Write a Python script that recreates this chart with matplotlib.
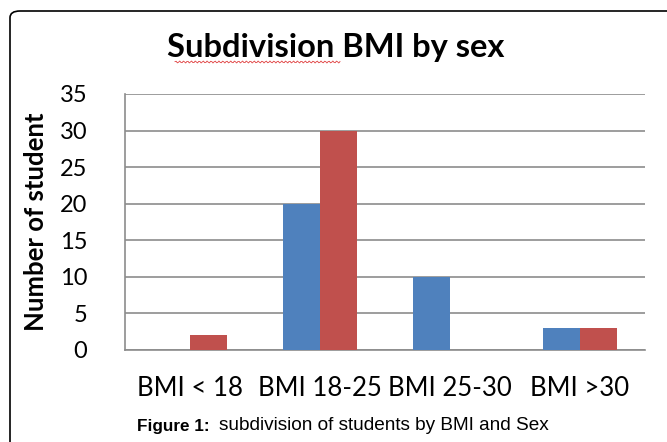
import numpy as np
import matplotlib
matplotlib.use("Agg")
import matplotlib.pyplot as plt
from matplotlib.patches import FancyBboxPatch

categories = ["BMI < 18", "BMI 18-25", "BMI 25-30", "BMI >30"]
male = [0, 20, 10, 3]
female = [2, 30, 0, 3]
yticks = [0, 5, 10, 15, 20, 25, 30, 35]

blue = "#4F81BD"
red = "#C0504D"

plt.rcParams['font.family'] = ['Lato', 'DejaVu Sans']

fig = plt.figure(figsize=(6.67, 4.42), dpi=100)
ax = fig.add_axes([125 / 667, 1 - 350 / 442, 520 / 667, 256 / 442])

x = np.arange(len(categories))
w = 0.285
ax.bar(x - w / 2, male, w, color=blue, zorder=3)
ax.bar(x + w / 2, female, w, color=red, zorder=3)

ax.set_xlim(-0.5, len(categories) - 0.5)
ax.set_ylim(0, 35)
ax.set_yticks(yticks)
ax.set_yticklabels([str(t) for t in yticks], fontsize=17)
ax.set_xticks(x)
ax.set_xticklabels(categories, fontsize=18.5)
ax.tick_params(axis='y', length=0, pad=27)
ax.tick_params(axis='x', length=0, pad=19)
ax.grid(axis='y', color='#8c8c8c', linewidth=1.2, zorder=0)
for s in ['top', 'right']:
    ax.spines[s].set_visible(False)
for s in ['left', 'bottom']:
    ax.spines[s].set_color('#8c8c8c')
    ax.spines[s].set_linewidth(1.2)

ax.set_ylabel("Number of student", fontsize=18.5, fontweight='bold')
ax.yaxis.set_label_coords(-77 / 520, 0.5)

fig.text(336 / 667, 1 - 57 / 442, "Subdivision BMI by sex", fontsize=23.5,
         fontweight='bold', ha='center', va='baseline')
# spell-check squiggle under "Subdivision"
sx = np.linspace(175, 340, 140)
sy = 62 + 1.0 * np.sin(sx * 1.6)
fig.add_artist(plt.Line2D(sx / 667, 1 - sy / 442, color='#e04040', linewidth=0.6))

fig.text(137 / 667, 1 - 426 / 442, "Figure 1:", fontsize=12.3, fontweight='bold',
         family=['Liberation Sans'], ha='left', va='center')
fig.text(219 / 667, 1 - 426 / 442, "subdivision of students by BMI and Sex",
         fontsize=13.7, family=['Liberation Sans'], ha='left', va='center')

frame = FancyBboxPatch((10 / 667, -0.2), 1.2, 1 - 11 / 442 + 0.2,
                       boxstyle="round,pad=0,rounding_size=0.015",
                       transform=fig.transFigure, fill=False,
                       edgecolor='black', linewidth=1.2, clip_on=False)
fig.add_artist(frame)

fig.savefig("out.png", dpi=100)
